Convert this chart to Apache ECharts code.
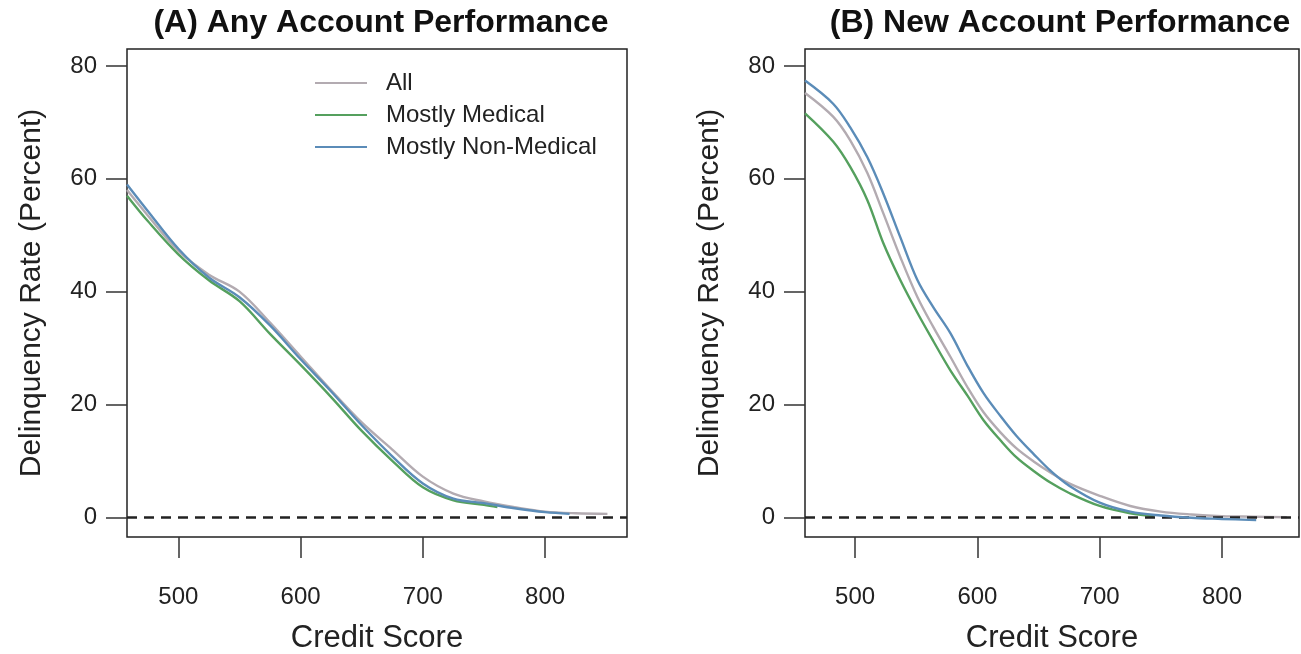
<!DOCTYPE html>
<html><head><meta charset="utf-8">
<script src="https://cdn.jsdelivr.net/npm/echarts@6/dist/echarts.min.js"></script>
<style>html,body{margin:0;padding:0;background:#fff}#c{width:1301px;height:654px}</style>
</head><body><div id="c"></div>
<script>
const seriesNames = ['All', 'Mostly Medical', 'Mostly Non-Medical'];
const xTicks = [500, 600, 700, 800];
const yTicks = [0, 20, 40, 60, 80];

// Panel A: Any Account Performance  [credit score, delinquency %]
const anyAll = [[458,58],[475,53.5],[500,47.2],[525,43],[550,40],[575,34.5],[600,28.5],[625,22.5],[650,16.8],[675,12],[700,7.2],[725,4.2],[750,2.8],[775,1.8],[800,1.0],[825,0.7],[851,0.6]];
const anyMed = [[458,57],[475,52.5],[500,46.6],[525,42],[550,38.3],[575,32.5],[600,27],[625,21.3],[650,15.3],[675,10],[700,5.3],[725,3],[750,2.2],[761,1.8]];
const anyNon = [[458,59],[475,54.3],[500,47.6],[525,42.5],[550,39],[575,34],[600,28],[625,22.3],[650,16.3],[675,10.8],[700,6],[725,3.3],[750,2.5],[775,1.6],[800,0.9],[820,0.6]];

// Panel B: New Account Performance
const newAll = [[459,75.2],[482,71],[496,66.8],[510,61],[523,53.9],[537,46.1],[551,39],[564,33.7],[578,28.4],[592,23],[605,18.6],[619,15],[632,12.2],[646,9.9],[660,7.9],[675,6],[700,3.8],[725,2],[750,1],[775,0.5],[800,0.2],[825,0.1],[853,0]];
const newMed = [[459,71.6],[482,66.6],[496,62.1],[510,56.2],[523,48.6],[537,42],[551,36.2],[564,31.2],[578,26],[592,21.5],[605,17.2],[619,13.6],[632,10.6],[646,8.2],[660,6.1],[675,4.3],[700,2],[725,0.7],[745,0.2]];
const newNon = [[459,77.4],[482,73.3],[496,69.1],[510,63.8],[523,57.4],[537,49.6],[551,42],[564,37.2],[578,32.6],[592,26.8],[605,22],[619,17.9],[632,14.4],[646,11.2],[660,8.2],[675,5.6],[700,2.6],[725,1],[750,0.3],[775,-0.1],[800,-0.3],[828,-0.5]];

const colors = ['#b3abb1', '#55a05e', '#5b8cb8'];
const FONT = '"Liberation Sans", Arial, Helvetica, sans-serif';
const TXT = '#222';

function xAxisCfg(gi, min, max) {
  return {
    type: 'value', gridIndex: gi, min: min, max: max,
    name: 'Credit Score', nameLocation: 'middle', nameGap: 86,
    nameTextStyle: {fontSize: 31, color: TXT, fontFamily: FONT},
    axisLine: {show: false, onZero: false},
    axisTick: {show: true, inside: false, length: 21, customValues: xTicks, lineStyle: {color: '#333', width: 1.5}},
    axisLabel: {customValues: xTicks, margin: 48, fontSize: 24, color: TXT, fontFamily: FONT},
    splitLine: {show: false}
  };
}
function yAxisCfg(gi) {
  return {
    type: 'value', gridIndex: gi, min: -3.5, max: 83,
    name: 'Delinquency Rate (Percent)', nameLocation: 'middle', nameGap: 80,
    nameTextStyle: {fontSize: 30, color: TXT, fontFamily: FONT},
    axisLine: {show: false, onZero: false},
    axisTick: {show: true, inside: false, length: 21, customValues: yTicks, lineStyle: {color: '#333', width: 1.5}},
    axisLabel: {customValues: yTicks, margin: 30, fontSize: 24, color: TXT, fontFamily: FONT},
    splitLine: {show: false}
  };
}
function lineSeries(name, data, ci, gi, withZero) {
  const s = {
    name: name, type: 'line', xAxisIndex: gi, yAxisIndex: gi, data: data,
    smooth: 0.35, showSymbol: false, symbol: 'none', clip: true,
    lineStyle: {color: colors[ci], width: 2.4}, itemStyle: {color: colors[ci]},
    z: 3 + ci, animation: false
  };
  if (withZero) {
    s.markLine = {silent: true, symbol: ['none', 'none'], label: {show: false},
      lineStyle: {color: '#222', type: [10, 7], width: 2.5},
      data: [{yAxis: 0}]};
  }
  return s;
}

const gridBase = {show: true, borderColor: '#222', borderWidth: 1.5, backgroundColor: 'transparent', containLabel: false, outerBoundsMode: 'none'};
const chart = echarts.init(document.getElementById('c'));
chart.setOption({
  animation: false,
  backgroundColor: '#fff',
  title: [
    {text: '(A) Any Account Performance', left: 376, top: 2, textAlign: 'center',
     textStyle: {fontSize: 32, fontWeight: 'bold', color: '#111', fontFamily: FONT}},
    {text: '(B) New Account Performance', left: 1055, top: 2, textAlign: 'center',
     textStyle: {fontSize: 32, fontWeight: 'bold', color: '#111', fontFamily: FONT}}
  ],
  legend: {
    data: seriesNames, orient: 'vertical', left: 310, top: 66,
    itemWidth: 52, itemHeight: 2, itemGap: 8, icon: 'rect',
    textStyle: {fontSize: 24, color: TXT, fontFamily: FONT, lineHeight: 24, padding: [0, 0, 0, 14]}
  },
  grid: [
    Object.assign({left: 127, top: 49, width: 500, height: 488}, gridBase),
    Object.assign({left: 805, top: 49, width: 494, height: 488}, gridBase)
  ],
  xAxis: [xAxisCfg(0, 458, 867), xAxisCfg(1, 459, 863)],
  yAxis: [yAxisCfg(0), yAxisCfg(1)],
  series: [
    lineSeries('All', anyAll, 0, 0, true),
    lineSeries('Mostly Medical', anyMed, 1, 0, false),
    lineSeries('Mostly Non-Medical', anyNon, 2, 0, false),
    lineSeries('All', newAll, 0, 1, true),
    lineSeries('Mostly Medical', newMed, 1, 1, false),
    lineSeries('Mostly Non-Medical', newNon, 2, 1, false)
  ]
});
</script></body></html>
